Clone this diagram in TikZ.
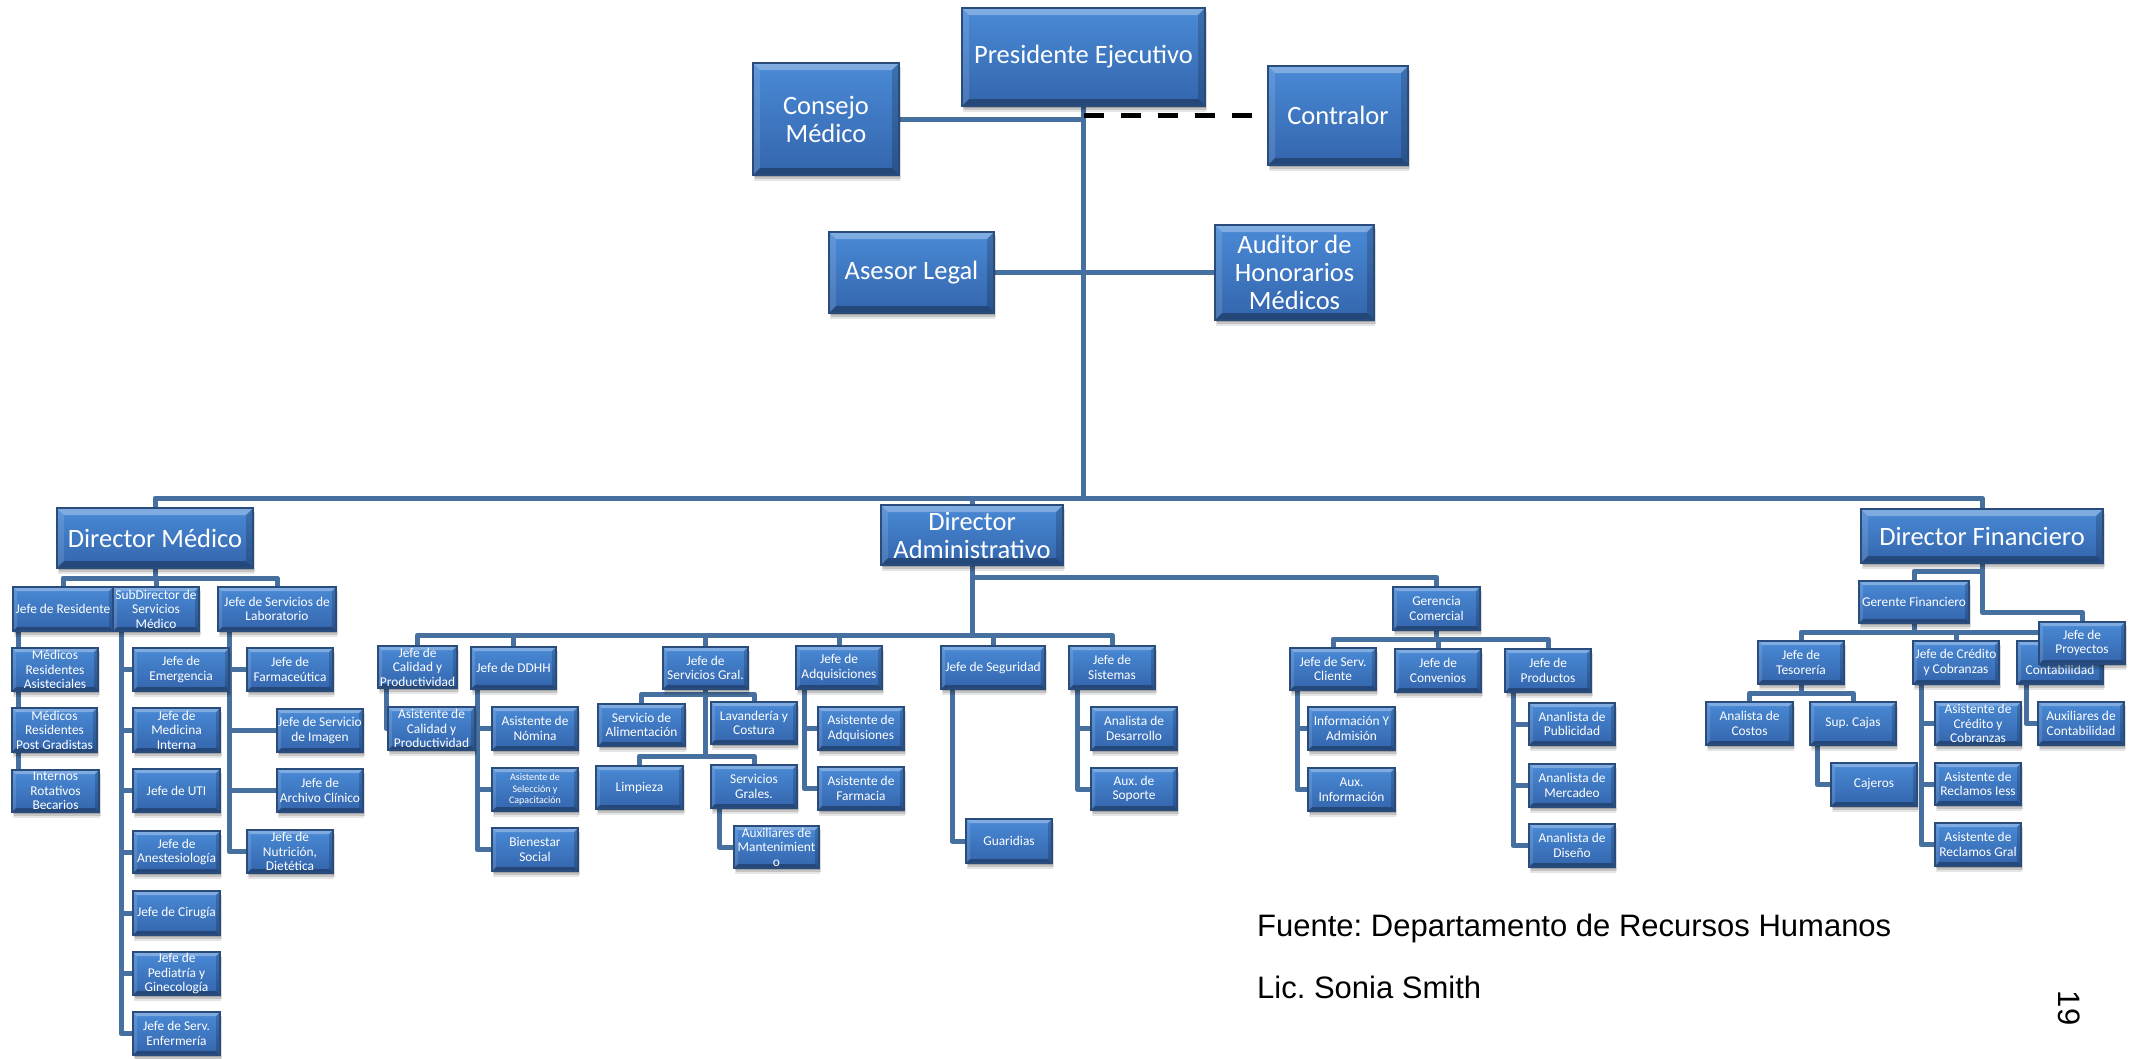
\documentclass[tikz,border=0pt]{standalone}
\usepackage{fontspec}
\newfontfamily\boxfont{Carlito}
\newfontfamily\footfont{Liberation Sans}
\usetikzlibrary{shadows}
\frenchspacing

\definecolor{boxtop}{HTML}{4A8AD6}
\definecolor{boxbot}{HTML}{3365AC}
\definecolor{boxedge}{HTML}{2A4C7C}
\definecolor{linkcol}{HTML}{46709F}

\pgfdeclarelayer{paper}
\pgfdeclarelayer{links}
\pgfsetlayers{paper,links,main}

\tikzset{
  bevel/.initial=6,
  orgbox/.style={draw=boxedge, line width=1.2pt, inner sep=0pt, outer sep=0pt, solid,
    align=center, text=white, top color=boxtop, bottom color=boxbot,
    drop shadow={shadow xshift=1pt, shadow yshift=-6pt, fill=black, opacity=.10},
    drop shadow={shadow xshift=2pt, shadow yshift=-4pt, fill=black, opacity=.14},
    drop shadow={shadow xshift=1pt, shadow yshift=-2pt, fill=black, opacity=.16},
    path picture={
      \pgfmathsetmacro\bv{\pgfkeysvalueof{/tikz/bevel}}
      \path (path picture bounding box.north west) coordinate (bNW)
            (path picture bounding box.north east) coordinate (bNE)
            (path picture bounding box.south west) coordinate (bSW)
            (path picture bounding box.south east) coordinate (bSE);
      \fill[white, opacity=.30] (bNW) -- (bNE) -- ([xshift=-\bv pt,yshift=-\bv pt]bNE)
           -- ([xshift=\bv pt,yshift=-\bv pt]bNW) -- cycle;
      \fill[white, opacity=.12] (bNW) -- ([xshift=\bv pt,yshift=-\bv pt]bNW)
           -- ([xshift=\bv pt,yshift=\bv pt]bSW) -- (bSW) -- cycle;
      \fill[black, opacity=.18] (bNE) -- ([xshift=-\bv pt,yshift=-\bv pt]bNE)
           -- ([xshift=-\bv pt,yshift=\bv pt]bSE) -- (bSE) -- cycle;
      \fill[black, opacity=.30] (bSW) -- ([xshift=\bv pt,yshift=\bv pt]bSW)
           -- ([xshift=-\bv pt,yshift=\bv pt]bSE) -- (bSE) -- cycle;
    }},
  big/.style={orgbox, bevel=7, font=\boxfont\fontsize{26.5}{28}\selectfont},
  small/.style={orgbox, bevel=4, font=\boxfont\fontsize{13.4}{14.6}\selectfont},
  tiny/.style={small, font=\boxfont\fontsize{10}{11.5}\selectfont},
  link/.style={draw=linkcol, line width=5pt, line join=round, solid},
  dashlink/.style={draw=black, line width=5pt, dash pattern=on 20pt off 17pt},
  foot/.style={inner sep=0pt, font=\footfont\fontsize{31}{34}\selectfont},
}

% box given by its corners: style, name, x1, y1, x2, y2, text
\newcommand\orgnode[7]{%
  \node[#1, minimum width={(#5-#3)*1pt}, minimum height={(#6-#4)*1pt}]
    (#2) at ({(#3+#5)/2},{(#4+#6)/2}) {#7};}

\begin{document}
\begin{tikzpicture}[x=1pt, y=-1pt]
\useasboundingbox (0,0) rectangle (2136,1058);
\begin{pgfonlayer}{paper}
  \fill[white] (0,0) rectangle (2136,1058);
\end{pgfonlayer}

% executive level
\orgnode{big}{pres}{962}{8}{1205}{106}{Presidente Ejecutivo}
\orgnode{big}{cons}{753}{63}{899}{175}{Consejo\\Médico}
\orgnode{big}{ctl}{1268}{66}{1408}{165}{Contralor}
\orgnode{big}{ase}{829}{232}{994}{313}{Asesor Legal}
\orgnode{big}{aud}{1215}{225}{1374}{320}{Auditor de\\Honorarios\\Médicos}

% directors
\orgnode{big}{dm}{57}{508}{253}{568}{Director Médico}
\orgnode{big}{da}{881}{505}{1063}{565}{Director\\Administrativo}
\orgnode{big}{df}{1861}{509}{2103}{563}{Director Financiero}

% medical branch
\orgnode{small}{jres}{13}{587}{113}{631}{Jefe de Residente}
\orgnode{small}{sub}{113}{587}{199}{631}{SubDirector de\\Servicios\\Médico}
\orgnode{small}{lab}{218}{587}{336}{631}{Jefe de Servicios de\\Laboratorio}
\orgnode{small}{mra}{12}{648}{98}{691}{Médicos\\Residentes\\Asisteciales}
\orgnode{small}{mrp}{12}{708}{97}{752}{Médicos\\Residentes\\Post Gradistas}
\orgnode{small}{irb}{12}{770}{99}{812}{Internos\\Rotativos\\Becarios}
\orgnode{small}{jem}{133}{648}{229}{691}{Jefe de\\Emergencia}
\orgnode{small}{jmi}{133}{708}{220}{752}{Jefe de\\Medicina\\Interna}
\orgnode{small}{juti}{133}{769}{220}{812}{Jefe de UTI}
\orgnode{small}{jan}{133}{831}{220}{873}{Jefe de\\Anestesiología}
\orgnode{small}{jci}{133}{891}{220}{935}{Jefe de Cirugía}
\orgnode{small}{jpg}{133}{952}{220}{995}{Jefe de\\Pediatría y\\Ginecología}
\orgnode{small}{jenf}{133}{1012}{220}{1055}{Jefe de Serv.\\Enfermería}
\orgnode{small}{jfar}{247}{648}{333}{691}{Jefe de\\Farmaceútica}
\orgnode{small}{jimg}{277}{709}{363}{752}{Jefe de Servicio\\de Imagen}
\orgnode{small}{jarc}{277}{769}{363}{812}{Jefe de\\Archivo Clínico}
\orgnode{small}{jnut}{247}{830}{333}{873}{Jefe de\\Nutrición,\\Dietética}

% administrative branch
\orgnode{small}{gc}{1393}{587}{1480}{630}{Gerencia\\Comercial}
\orgnode{small}{jcal}{378}{646}{457}{688}{Jefe de\\Calidad y\\Productividad}
\orgnode{small}{acal}{388}{707}{475}{750}{Asistente de\\Calidad y\\Productividad}
\orgnode{small}{jdh}{471}{647}{556}{689}{Jefe de DDHH}
\orgnode{small}{anom}{492}{707}{578}{750}{Asistente de\\Nómina}
\orgnode{tiny}{asel}{492}{768}{578}{811}{Asistente de\\Selección y\\Capacitación}
\orgnode{small}{bsoc}{492}{828}{578}{871}{Bienestar\\Social}
\orgnode{small}{jsg}{663}{647}{748}{689}{Jefe de\\Servicios Gral.}
\orgnode{small}{alim}{598}{704}{685}{746}{Servicio de\\Alimentación}
\orgnode{small}{lav}{711}{702}{797}{744}{Lavandería y\\Costura}
\orgnode{small}{limp}{596}{766}{683}{809}{Limpieza}
\orgnode{small}{sgr}{711}{765}{797}{808}{Servicios\\Grales.}
\orgnode{small}{amant}{734}{826}{819}{868}{Auxiliares de\\Mantenimient\\o}
\orgnode{small}{jadq}{796}{646}{882}{689}{Jefe de\\Adquisiciones}
\orgnode{small}{aadq}{818}{707}{904}{750}{Asistente de\\Adquisiones}
\orgnode{small}{afar}{818}{767}{904}{810}{Asistente de\\Farmacia}
\orgnode{small}{jseg}{941}{646}{1045}{689}{Jefe de Seguridad}
\orgnode{small}{guar}{966}{819}{1052}{863}{Guaridias}
\orgnode{small}{jsis}{1069}{646}{1155}{689}{Jefe de\\Sistemas}
\orgnode{small}{ades}{1091}{707}{1177}{750}{Analista de\\Desarrollo}
\orgnode{small}{asop}{1091}{768}{1177}{810}{Aux. de\\Soporte}
\orgnode{small}{jsc}{1290}{648}{1376}{690}{Jefe de Serv.\\Cliente}
\orgnode{small}{jcon}{1395}{649}{1481}{692}{Jefe de\\Convenios}
\orgnode{small}{jpro}{1505}{649}{1591}{692}{Jefe de\\Productos}
\orgnode{small}{infa}{1308}{707}{1395}{750}{Información Y\\Admisión}
\orgnode{small}{auxi}{1308}{768}{1395}{811}{Aux.\\Información}
\orgnode{small}{apub}{1529}{703}{1615}{745}{Ananlista de\\Publicidad}
\orgnode{small}{amer}{1529}{764}{1615}{807}{Ananlista de\\Mercadeo}
\orgnode{small}{adis}{1529}{824}{1615}{867}{Ananlista de\\Diseño}

% financial branch
\orgnode{small}{gf}{1859}{581}{1969}{623}{Gerente Financiero}
\orgnode{small}{jtes}{1758}{641}{1844}{684}{Jefe de\\Tesorería}
\orgnode{small}{jcre}{1913}{641}{1999}{684}{Jefe de Crédito\\y Cobranzas}
\orgnode{small}{jcont}{2017}{641}{2103}{684}{Jefe de\\Contabilidad}
\orgnode{small}{jproy}{2039}{622}{2125}{664}{Jefe de\\Proyectos}
\orgnode{small}{acos}{1706}{702}{1793}{745}{Analista de\\Costos}
\orgnode{small}{scaj}{1810}{702}{1896}{745}{Sup. Cajas}
\orgnode{small}{caj}{1831}{763}{1917}{806}{Cajeros}
\orgnode{small}{acre}{1935}{702}{2021}{745}{Asistente de\\Crédito y\\Cobranzas}
\orgnode{small}{arei}{1935}{763}{2021}{805}{Asistente de\\Reclamos Iess}
\orgnode{small}{areg}{1935}{823}{2021}{866}{Asistente de\\Reclamos Gral}
\orgnode{small}{auxc}{2038}{702}{2124}{745}{Auxiliares de\\Contabilidad}

% bus levels
\coordinate (topbus) at (0,498);
\coordinate (dmbus) at (0,578);
\coordinate (gcbus) at (0,577);
\coordinate (dabus) at (0,635);
\coordinate (sgbusa) at (0,694);
\coordinate (sgbusb) at (0,756);
\coordinate (gcbusb) at (0,639);
\coordinate (gfbus) at (0,571);
\coordinate (pjbus) at (0,612);
\coordinate (fbus) at (0,632);
\coordinate (tbus) at (0,693);

\begin{pgfonlayer}{links}
  % executive links
  \draw[link] (pres.south) -- (pres.south |- topbus);
  \draw[link] (cons.east) -- (cons.east -| pres.south);
  \draw[link] (ase.east) -- (aud.west);
  \foreach \n in {dm,da,df} \draw[link] (pres.south |- topbus) -| (\n.north);

  % medical branch
  \foreach \n in {jres,sub,lab} \draw[link] (dm.south) -- (dm.south |- dmbus) -| (\n.north);
  \foreach \n in {mra,mrp,irb} \draw[link] ([xshift=5pt]jres.south west) |- (\n.west);
  \foreach \n in {jem,jmi,juti,jan,jci,jpg,jenf} \draw[link] ([xshift=8pt]sub.south west) |- (\n.west);
  \foreach \n in {jfar,jimg,jarc,jnut} \draw[link] ([xshift=11pt]lab.south west) |- (\n.west);

  % administrative branch
  \draw[link] (da.south) -- (da.south |- gcbus) -| (gc.north);
  \foreach \n in {jcal,jdh,jsg,jadq,jseg,jsis} \draw[link] (da.south) -- (da.south |- dabus) -| (\n.north);
  \draw[link] ([xshift=8pt]jcal.south west) |- (acal.west);
  \foreach \n in {anom,asel,bsoc} \draw[link] ([xshift=6pt]jdh.south west) |- (\n.west);
  \foreach \n in {alim,lav} \draw[link] (jsg.south) -- (jsg.south |- sgbusa) -| (\n.north);
  \foreach \n in {limp,sgr} \draw[link] (jsg.south) -- (jsg.south |- sgbusb) -| (\n.north);
  \draw[link] ([xshift=8pt]sgr.south west) |- (amant.west);
  \foreach \n in {aadq,afar} \draw[link] ([xshift=8pt]jadq.south west) |- (\n.west);
  \draw[link] ([xshift=11pt]jseg.south west) |- (guar.west);
  \foreach \n in {ades,asop} \draw[link] ([xshift=8pt]jsis.south west) |- (\n.west);
  \foreach \n in {jsc,jcon,jpro} \draw[link] (gc.south) -- (gc.south |- gcbusb) -| (\n.north);
  \foreach \n in {infa,auxi} \draw[link] ([xshift=7pt]jsc.south west) |- (\n.west);
  \foreach \n in {apub,amer,adis} \draw[link] ([xshift=8pt]jpro.south west) |- (\n.west);

  % financial branch
  \draw[link] (df.south) -- (df.south |- gfbus) -| (gf.north);
  \draw[link] (df.south) -- (df.south |- pjbus) -| (jproy.north);
  \foreach \n in {jtes,jcre,jcont} \draw[link] (gf.south) -- (gf.south |- fbus) -| (\n.north);
  \foreach \n in {acos,scaj} \draw[link] (jtes.south) -- (jtes.south |- tbus) -| (\n.north);
  \draw[link] ([xshift=7pt]scaj.south west) |- (caj.west);
  \foreach \n in {acre,arei,areg} \draw[link] ([xshift=8pt]jcre.south west) |- (\n.west);
  \draw[link] ([xshift=9pt]jcont.south west) |- (auxc.west);
\end{pgfonlayer}

% dashed staff line to the controller
\draw[dashlink] (pres.south |- ctl.west) -- (ctl.west);

% source note and page number
\node[foot, anchor=base west] (src) at (1257,936) {Fuente: Departamento de Recursos Humanos};
\node[foot, anchor=base west] (lic) at (1257,998) {Lic. Sonia Smith};
\node[foot, rotate=-90] (pg) at (2069,1008) {19};
\end{tikzpicture}
\end{document}
